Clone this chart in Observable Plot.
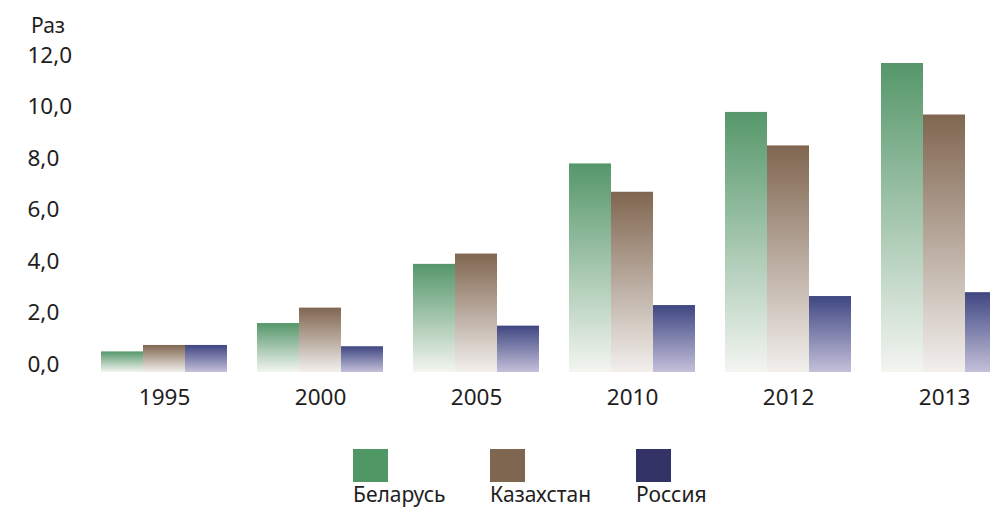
<!DOCTYPE html>
<html>
<head>
<meta charset="utf-8">
<script src="https://cdn.jsdelivr.net/npm/d3@7"></script>
<script src="https://cdn.jsdelivr.net/npm/@observablehq/plot@0.6"></script>
<style>
  html, body { margin: 0; padding: 0; background: white; overflow: hidden; }
  #wrap { position: relative; width: 990px; height: 507px; font-family: "Noto Sans", sans-serif; color: #1e1e1e; }
  #unit { position: absolute; left: 31px; top: 11px; font-size: 21px; }
  .sw { position: absolute; top: 449px; width: 35px; height: 33px; }
  .lab { position: absolute; top: 484px; font-size: 21px; line-height: 1; white-space: nowrap; }
  #chart svg { display: block; }
</style>
</head>
<body>
<div id="wrap">
  <div id="chart"></div>
  <div id="unit">Раз</div>
  <div id="legend"></div>
</div>
<script>
const years = ["1995", "2000", "2005", "2010", "2012", "2013"];
const countries = ["Беларусь", "Казахстан", "Россия"];
const belarus = [0.8, 1.9, 4.2, 8.1, 10.1, 12.0];
const kazakhstan = [1.05, 2.5, 4.6, 7.0, 8.8, 10.0];
const russia = [1.05, 1.0, 1.8, 2.6, 2.95, 3.1];
const yTicks = [0, 2, 4, 6, 8, 10, 12];
const legendColors = ["#4f9764", "#7f6650", "#333366"];
const topColors = ["#55976a", "#806650", "#3f4782"];
const bottomColors = ["#f3f5f1", "#f2efed", "#c4c0da"];
const legendLeft = [353, 490, 636];

const series = [belarus, kazakhstan, russia];
const data = [];
years.forEach((yr, i) => countries.forEach((c, j) => data.push({year: yr, country: c, value: series[j][i]})));

const gradIds = countries.map((c, j) => "grad" + j);

const chart = Plot.plot({
  width: 990,
  height: 430,
  marginTop: 63,
  marginBottom: 58,
  marginLeft: 85,
  marginRight: 0,
  style: {fontFamily: "Noto Sans", fontSize: "22.5px", color: "#1e1e1e", background: "white"},
  fx: {domain: years, range: [86, 1022], paddingInner: 0.192, paddingOuter: 0.096, label: null},
  x: {domain: countries, padding: 0, axis: null},
  y: {domain: [0, 12], axis: null},
  color: {domain: countries, range: gradIds.map(id => `url(#${id})`)},
  marks: [
    Plot.barY(data, {fx: "year", x: "country", y: "value", fill: "country"}),
    Plot.axisY(yTicks, {anchor: "left", tickSize: 0, textAnchor: "start", dx: -65, dy: -8,
      tickFormat: d => d.toFixed(1).replace(".", ","), label: null}),
    Plot.axisFx({anchor: "bottom", tickSize: 0, tickPadding: 17, label: null})
  ]
});

const defs = d3.select(chart).insert("defs", ":first-child");
gradIds.forEach((id, j) => {
  const g = defs.append("linearGradient").attr("id", id)
    .attr("x1", 0).attr("y1", 0).attr("x2", 0).attr("y2", 1);
  g.append("stop").attr("offset", "0%").attr("stop-color", topColors[j]);
  g.append("stop").attr("offset", "100%").attr("stop-color", bottomColors[j]);
});

document.getElementById("chart").appendChild(chart);

const legend = document.getElementById("legend");
countries.forEach((c, j) => {
  const sw = document.createElement("div");
  sw.className = "sw";
  sw.style.left = legendLeft[j] + "px";
  sw.style.background = legendColors[j];
  legend.appendChild(sw);
  const lab = document.createElement("div");
  lab.className = "lab";
  lab.style.left = legendLeft[j] + "px";
  lab.textContent = c;
  legend.appendChild(lab);
});
</script>
</body>
</html>
